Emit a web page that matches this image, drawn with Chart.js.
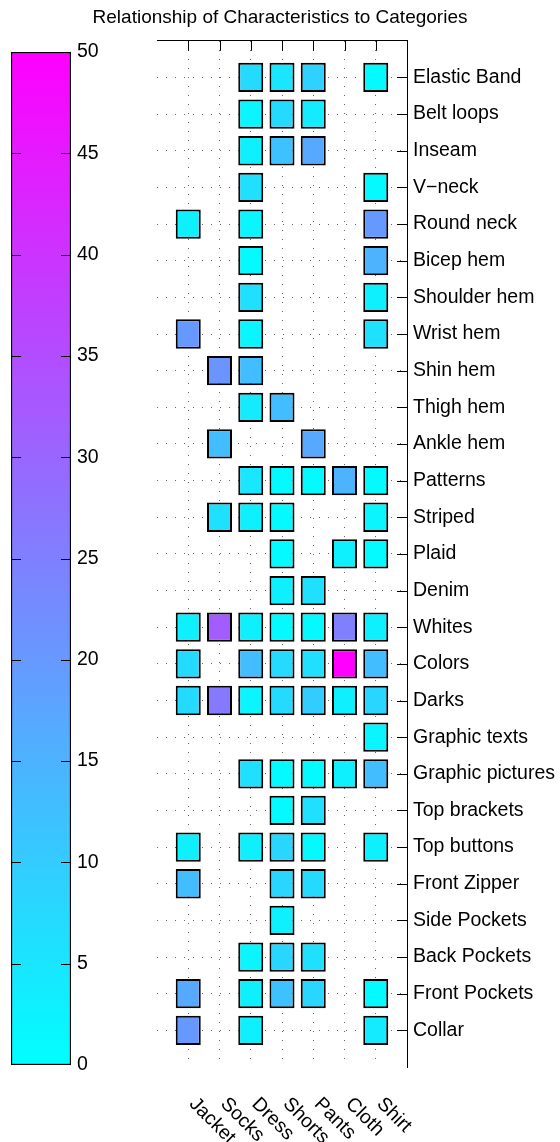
<!DOCTYPE html>
<html>
<head>
<meta charset="utf-8">
<title>Relationship of Characteristics to Categories</title>
<script src="https://cdn.jsdelivr.net/npm/chart.js@4.4.1/dist/chart.umd.min.js"></script>
<style>
  body { margin: 0; background: #fff; }
  #wrap { position: relative; width: 560px; height: 1142px; }
  canvas { position: absolute; left: 0; top: 0; }
</style>
</head>
<body>
<div id="wrap">
  <canvas id="barCanvas" width="157" height="1142"></canvas>
  <canvas id="heatCanvas" width="560" height="1142"></canvas>
</div>
<script>
// Columns (x) and rows (y) of the matrix
const categories = ["Jacket", "Socks", "Dress", "Shorts", "Pants", "Cloth", "Shirt"];
const characteristics = [
  "Elastic Band", "Belt loops", "Inseam", "V\u2212neck", "Round neck", "Bicep hem",
  "Shoulder hem", "Wrist hem", "Shin hem", "Thigh hem", "Ankle hem", "Patterns",
  "Striped", "Plaid", "Denim", "Whites", "Colors", "Darks", "Graphic texts",
  "Graphic pictures", "Top brackets", "Top buttons", "Front Zipper", "Side Pockets",
  "Back Pockets", "Front Pockets", "Collar"
];

// One array per category, same order as characteristics (null = no cell)
const _ = null;
const jacket = [_, _, _, _, 3, _, _, 20, _, _, _, _, _, _, _, 3, 7, 7, _, _, _, 3, 13, _, _, 17, 20];
const socks  = [_, _, _, _, _, _, _, _, 21, _, 13, _, 6, _, _, 32, _, 26, _, _, _, _, _, _, _, _, _];
const dress  = [7, 2, 3, 6, 2, 1, 6, 2, 13, 4, _, 5, 3, _, _, 3, 13, 2, _, 6, _, 3, _, _, 2, 3, 3];
const shorts = [5, 7, 12, _, _, _, _, _, _, 13, _, 1, 1, 1, 3, 1, 7, 7, _, 1, 1, 8, 8, 3, 8, 12, _];
const pants  = [9, 4, 17, _, _, _, _, _, _, _, 17, 1, _, _, 6, 1, 6, 10, _, 1, 6, 1, 7, _, 6, 8, _];
const cloth  = [_, _, _, _, _, _, _, _, _, _, _, 15, _, 3, _, 25, 50, 3, _, 3, _, _, _, _, _, _, _];
const shirt  = [1, _, _, 1, 20, 15, 3, 6, _, _, _, 1, 2, 1, _, 3, 13, 8, 2, 13, _, 3, _, _, _, 1, 4];

// Colour bar range and tick step
const cbMin = 0;
const cbMax = 50;
const cbStep = 5;

Chart.defaults.font.family = '"Liberation Sans", Arial, Helvetica, sans-serif';
Chart.defaults.color = "#000";

// "cool" colormap: cyan at cbMin, magenta at cbMax
function cool(v) {
  const t = Math.max(0, Math.min(1, (v - cbMin) / (cbMax - cbMin)));
  return `rgb(${Math.round(255 * t)}, ${Math.round(255 * (1 - t))}, 255)`;
}

function coolGradient(chart) {
  const { ctx, chartArea, scales } = chart;
  if (!chartArea) return cool(cbMin);
  const g = ctx.createLinearGradient(0, scales.y.getPixelForValue(cbMin), 0, scales.y.getPixelForValue(cbMax));
  g.addColorStop(0, cool(cbMin));
  g.addColorStop(1, cool(cbMax));
  return g;
}

function tickLine(ctx, x1, y1, x2, y2) {
  ctx.moveTo(x1, y1);
  ctx.lineTo(x2, y2);
}

// Inward ticks on both sides of the colour bar
const barTicks = {
  id: "barTicks",
  afterDatasetsDraw(chart) {
    const { ctx, chartArea: a, scales: { y } } = chart;
    ctx.save();
    ctx.strokeStyle = "#000";
    ctx.lineWidth = 1;
    ctx.beginPath();
    y.ticks.forEach((t) => {
      if (t.value <= y.min || t.value >= y.max) return;
      const py = Math.round(y.getPixelForValue(t.value)) + 0.5;
      tickLine(ctx, a.left, py, a.left + 10, py);
      tickLine(ctx, a.right - 10, py, a.right, py);
    });
    ctx.stroke();
    ctx.restore();
  },
};

// Inward ticks on top and right frame of the matrix
const frameTicks = {
  id: "frameTicks",
  afterDatasetsDraw(chart) {
    const { ctx, chartArea: a, scales: { x, y } } = chart;
    ctx.save();
    ctx.strokeStyle = "#000";
    ctx.lineWidth = 1;
    ctx.beginPath();
    x.ticks.forEach((t) => {
      if (t.value <= x.min || t.value >= x.max) return;
      const px = Math.round(x.getPixelForValue(t.value)) + 0.5;
      tickLine(ctx, px, a.top, px, a.top + 10);
    });
    y.ticks.forEach((t) => {
      if (t.value <= y.min || t.value >= y.max) return;
      const py = Math.round(y.getPixelForValue(t.value)) + 0.5;
      tickLine(ctx, a.right - 10, py, a.right, py);
    });
    ctx.stroke();
    ctx.restore();
  },
};

// Category names under the matrix, turned 45 degrees down-right
const bottomLabels = {
  id: "bottomLabels",
  afterDraw(chart) {
    const { ctx, chartArea, scales: { x } } = chart;
    ctx.save();
    ctx.font = '19.5px "Liberation Sans", Arial, sans-serif';
    ctx.fillStyle = "#000";
    ctx.textAlign = "left";
    ctx.textBaseline = "middle";
    categories.forEach((name, i) => {
      ctx.save();
      ctx.translate(x.getPixelForValue(i + 1) + 4, chartArea.bottom + 34);
      ctx.rotate(Math.PI / 4);
      ctx.fillText(name, 0, 0);
      ctx.restore();
    });
    ctx.restore();
  },
};

// Colour bar
new Chart(document.getElementById("barCanvas"), {
  type: "bar",
  data: {
    labels: [""],
    datasets: [{
      data: [[cbMin, cbMax]],
      backgroundColor: (c) => coolGradient(c.chart),
      borderColor: "#000",
      borderWidth: 1.5,
      borderSkipped: false,
      barPercentage: 1,
      categoryPercentage: 1,
    }],
  },
  options: {
    responsive: false,
    animation: false,
    layout: { padding: { left: 11, top: 52, bottom: 77, right: 0 } },
    plugins: { legend: { display: false }, tooltip: { enabled: false } },
    scales: {
      x: { display: false },
      y: {
        position: "right",
        min: cbMin,
        max: cbMax,
        grid: { display: false, drawTicks: false },
        border: { display: false },
        ticks: { stepSize: cbStep, padding: 6, font: { size: 19.5 } },
        afterFit: (s) => { s.width = 86; },
      },
    },
  },
  plugins: [barTicks],
});

// Matrix cells: one floating bar per non-empty value
const columns = [jacket, socks, dress, shorts, pants, cloth, shirt];
const gridColor = "rgba(0, 0, 0, 0.6)";

// dotted grid only on the inner ticks
function innerGrid(last) {
  return (c) => {
    if (!c.tick) return gridColor;
    return c.tick.value > 0 && c.tick.value < last ? gridColor : "transparent";
  };
}

const datasets = columns.map((vals, c) => ({
  label: categories[c],
  data: vals
    .map((v, r) => (v === null ? null : { x: c + 1, y: [r + 1 - 0.4, r + 1 + 0.4], v: v }))
    .filter((d) => d !== null),
  backgroundColor: (ctx) => cool(ctx.raw ? ctx.raw.v : cbMin),
  borderColor: "#000",
  borderWidth: 2,
  borderSkipped: false,
  barPercentage: 0.8,
  categoryPercentage: 1,
  grouped: false,
  xAxisID: "x",
  yAxisID: "y",
}));

new Chart(document.getElementById("heatCanvas"), {
  type: "bar",
  data: { datasets: datasets },
  options: {
    responsive: false,
    animation: false,
    layout: { padding: { left: 0, right: 0, top: 0, bottom: 75 } },
    plugins: {
      legend: { display: false },
      tooltip: { enabled: false },
      title: {
        display: true,
        text: "Relationship of Characteristics to Categories",
        font: { size: 19, weight: "normal" },
        padding: { top: 6, bottom: 12 },
      },
    },
    scales: {
      x: {
        type: "linear",
        position: "top",
        offset: false,
        min: 0,
        max: categories.length + 1,
        ticks: { display: false, stepSize: 1 },
        grid: { offset: false, drawTicks: false, color: innerGrid(categories.length + 1) },
        border: { display: true, color: "#000", width: 1, dash: [1, 8] },
      },
      y: {
        type: "linear",
        position: "right",
        reverse: true,
        min: 0,
        max: characteristics.length + 1,
        ticks: {
          stepSize: 1,
          autoSkip: false,
          padding: 6,
          font: { size: 19.5 },
          callback: (v) => characteristics[v - 1] || "",
        },
        grid: { drawTicks: false, color: innerGrid(characteristics.length + 1) },
        border: { display: true, color: "#000", width: 1, dash: [1, 8] },
        afterFit: (s) => { s.width = 153; },
      },
      // empty axis that keeps room for the colour bar on the left
      pad: {
        type: "linear",
        position: "left",
        display: true,
        ticks: { display: false },
        grid: { display: false, drawTicks: false },
        border: { display: false },
        afterFit: (s) => { s.width = 157; },
      },
    },
  },
  plugins: [frameTicks, bottomLabels],
});
</script>
</body>
</html>
